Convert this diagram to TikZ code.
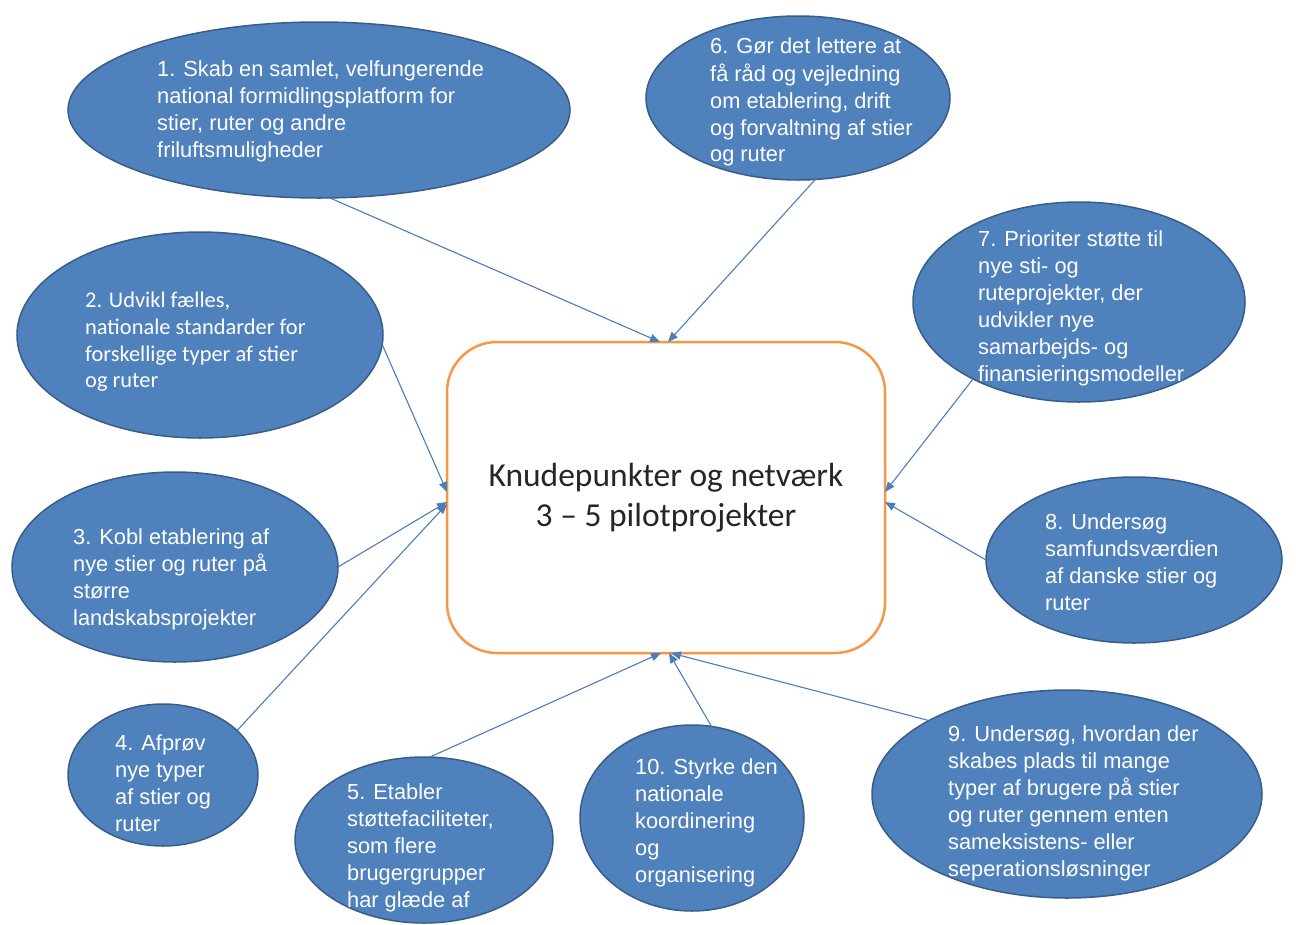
\documentclass[tikz,border=0pt]{standalone}
\usepackage{fontspec}
\setmainfont{Liberation Sans}
\newfontfamily\arialf{Liberation Sans}
\newfontfamily\calibrif{Carlito}
\usetikzlibrary{shapes.geometric,arrows.meta}
\definecolor{ellfill}{HTML}{4F81BD}
\definecolor{elldraw}{HTML}{385D8A}
\definecolor{linecol}{HTML}{4A7EBB}
\definecolor{rectcol}{HTML}{F79646}
\tikzset{
  ell/.style={ellipse, draw=elldraw, fill=ellfill, line width=1.5pt, inner sep=0pt, outer sep=0pt},
  etext/.style={anchor=north west, inner sep=0pt, align=left, text=white, font=\arialf\fontsize{21.8}{27}\selectfont},
  ctext/.style={anchor=north west, inner sep=0pt, align=left, text=white, font=\calibrif\fontsize{22.4}{26.7}\selectfont},
  conn/.style={draw=linecol, line width=1.1pt, -{Triangle[length=10pt,width=8pt]}},
}
\begin{document}
\begin{tikzpicture}[x=1pt,y=-1pt]
\useasboundingbox (0,0) rectangle (1296,924);
% central box
\node[draw=rectcol, line width=2.5pt, rounded corners=50pt, minimum width=438pt, minimum height=311pt, inner sep=0pt,
      font=\calibrif\fontsize{33.5}{40}\selectfont, align=center, text=black!85] (C) at (666,497.5)
      {Knudepunkter og netværk\\3 – 5 pilotprojekter};
\coordinate (t1) at (660,342);
\coordinate (t6) at (668,342);
\coordinate (t2) at (447,492);
\coordinate (t3) at (447,502);
\coordinate (t4) at (447,504);
\coordinate (t7) at (885,492);
\coordinate (t8) at (885,502);
\coordinate (t5) at (661,653);
\coordinate (t10) at (669,653);
\coordinate (t9) at (671,653);
% ellipses
\node[ell, minimum width=502pt, minimum height=176pt] (e1) at (319,110) {};
\node[ell, minimum width=304pt, minimum height=164pt] (e6) at (798,98) {};
\node[ell, minimum width=332pt, minimum height=200pt] (e7) at (1079,302) {};
\node[ell, minimum width=366pt, minimum height=206pt] (e2) at (200,335) {};
\node[ell, minimum width=326pt, minimum height=190pt] (e3) at (175,567) {};
\node[ell, minimum width=296pt, minimum height=166pt] (e8) at (1134,560) {};
\node[ell, minimum width=190pt, minimum height=142pt] (e4) at (163,775) {};
\node[ell, minimum width=258pt, minimum height=166pt] (e5) at (424,840) {};
\node[ell, minimum width=224pt, minimum height=186pt] (e10) at (692,818) {};
\node[ell, minimum width=390pt, minimum height=208pt] (e9) at (1067,794) {};
% texts
\node[etext] (x1) at (157,60) {1. Skab en samlet, velfungerende\\national formidlingsplatform for\\stier, ruter og andre\\friluftsmuligheder};
\node[etext] (x6) at (710,38) {6. Gør det lettere at\\få råd og vejledning\\om etablering, drift\\og forvaltning af stier\\og ruter};
\node[etext] (x7) at (978,230) {7. Prioriter støtte til\\nye sti- og\\ruteprojekter, der\\udvikler nye\\samarbejds- og\\finansieringsmodeller};
\node[ctext] (x2) at (85,292) {2. Udvikl fælles,\\nationale standarder for\\forskellige typer af stier\\og ruter};
\node[etext] (x3) at (73,528) {3. Kobl etablering af\\nye stier og ruter på\\større\\landskabsprojekter};
\node[etext] (x8) at (1045,513) {8. Undersøg\\samfundsværdien\\af danske stier og\\ruter};
\node[etext] (x4) at (115,735) {4. Afprøv\\nye typer\\af stier og\\ruter};
\node[etext] (x5) at (347,783) {5. Etabler\\støttefaciliteter,\\som flere\\brugergrupper\\har glæde af};
\node[etext] (x10) at (635,758) {10. Styrke den\\nationale\\koordinering\\og\\organisering};
\node[etext] (x9) at (948,725) {9. Undersøg, hvordan der\\skabes plads til mange\\typer af brugere på stier\\og ruter gennem enten\\sameksistens- eller\\seperationsløsninger};
% connectors
\draw[conn] (e1.-83) -- (t1);
\draw[conn] (e6.-78) -- (t6);
\draw[conn] (e2.-3) -- (t2);
\draw[conn] (e3.east) -- (t3);
\draw[conn] (e4.31) -- (t4);
\draw[conn] (e7.-144) -- (t7);
\draw[conn] (e8.west) -- (t8);
\draw[conn] (e5.86) -- (t5);
\draw[conn] (e10.78) -- (t10);
\draw[conn] (e9.152) -- (t9);
\end{tikzpicture}
\end{document}
